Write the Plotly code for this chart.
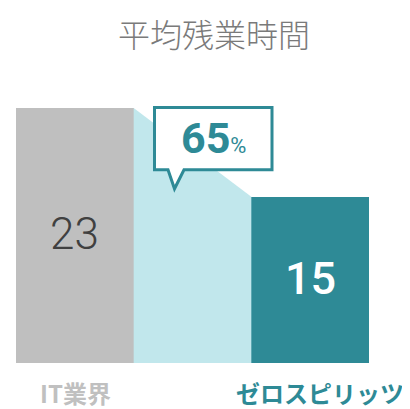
import plotly.graph_objects as go

categories = ["IT業界", "ゼロスピリッツ"]
values = [23, 15]
title_text = "平均残業時間"

GRAY = "#bfbfbf"
LIGHT = "#c1e7ec"
TEAL = "#2e8a96"

W, H = 410, 409
OFF = 8  # page body margin
# plot area edges in page pixels
PL, PR, PT, PB = 16, 369, 55, 363.5
ML, MR, MT, MB = PL - OFF, W - (PR - OFF), PT - OFF, H - (PB - OFF)
plot_w = PR - PL
plot_h = PB - PT
x0, x1 = -0.5, 2.5
ymax = values[0] * plot_h / 255.5
def px_x(px):
    return x0 + (px - PL) / plot_w * (x1 - x0)
def px_y(py):
    return (PB - py) / plot_h * ymax
def pp_x(px):
    return (px - PL) / plot_w
def pp_y(py):
    return (PB - py) / plot_h

ratio = round(values[1] / values[0] * 100)

fig = go.Figure()
# connecting light-blue band
fig.add_trace(go.Scatter(
    x=[0.5, 0.5, 1.5, 1.5, 0.5], y=[-0.15, values[0], values[1], -0.15, -0.15],
    fill="toself", fillcolor=LIGHT, line=dict(width=0), mode="lines",
    hoverinfo="skip", showlegend=False))
fig.add_trace(go.Bar(x=[0, 2], y=values, width=1,
                     marker=dict(color=[GRAY, TEAL], line=dict(width=0)),
                     showlegend=False, hoverinfo="skip"))

# callout box with tail
bx0, bx1 = px_x(154.5), px_x(272)
by0, by1 = px_y(170), px_y(107.5)
tl, tt, tr = px_x(168), px_x(174.5), px_x(184)
tip = px_y(189)
path = (f"M {tl},{by0} L {bx0},{by0} L {bx0},{by1} L {bx1},{by1} L {bx1},{by0} "
        f"L {tr},{by0} L {tt},{tip} Z")
fig.add_shape(type="path", path=path, xref="x", yref="y",
              fillcolor="white", line=dict(color=TEAL, width=3))

fig.add_annotation(x=pp_x(214), y=pp_y(8.5), xref="paper", yref="paper",
                   text=title_text, showarrow=False, borderpad=0,
                   font=dict(family="Noto Sans CJK JP", weight=300, size=32, color="#7a7a7a"),
                   xanchor="center", yanchor="top")
# value labels
fig.add_annotation(x=0, y=px_y(234), text=str(values[0]), showarrow=False,
                   font=dict(family="Roboto", weight=300, size=44, color="#404040"),
                   xanchor="center", yanchor="middle")
fig.add_annotation(x=2, y=px_y(279), text=str(values[1]), showarrow=False,
                   font=dict(family="Roboto", weight=500, size=45, color="white"),
                   xanchor="center", yanchor="middle")
fig.add_annotation(x=px_x(213), y=px_y(138),
                   text=f"<b>{ratio}</b><span style='font-size:22px;font-weight:400'>%</span>",
                   showarrow=False,
                   font=dict(family="Roboto", size=43, color=TEAL),
                   xanchor="center", yanchor="middle")
# category labels
fig.add_annotation(x=pp_x(75), y=pp_y(393), xref="paper", yref="paper",
                   text=f"<b>{categories[0]}</b>", showarrow=False, borderpad=0,
                   font=dict(family="Noto Sans CJK JP", size=24, color="#c0c0c0"),
                   xanchor="center", yanchor="middle")
fig.add_annotation(x=pp_x(320), y=pp_y(393), xref="paper", yref="paper",
                   text=f"<b>{categories[1]}</b>", showarrow=False, borderpad=0,
                   font=dict(family="Noto Sans CJK JP", size=24, color=TEAL),
                   xanchor="center", yanchor="middle")

fig.update_layout(
    width=W, height=H,
    margin=dict(l=ML, r=MR, t=MT, b=MB),
    paper_bgcolor="white", plot_bgcolor="white",
    bargap=0,
    xaxis=dict(range=[x0, x1], visible=False, fixedrange=True),
    yaxis=dict(range=[0, ymax], visible=False, fixedrange=True),
)
fig.write_html("out.html")
